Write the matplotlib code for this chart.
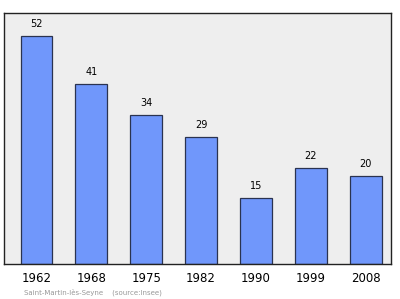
import matplotlib.pyplot as plt
import numpy as np

# Données
annees = ['1962', '1968', '1975', '1982', '1990', '1999', '2008']
population = [52, 41, 34, 29, 15, 22, 20]

fig = plt.figure(figsize=(4.0, 2.99), dpi=100)
ax = fig.add_axes([0.01, 0.117, 0.9675, 0.838])
ax.set_facecolor('#eeeeee')

x = np.arange(len(annees))
bars = ax.bar(x, population, width=0.577, color='#7097fb',
              edgecolor='#2a3350', linewidth=0.9, zorder=2)

for xi, v in zip(x, population):
    ax.annotate(str(v), (xi, v), xytext=(0, 5), textcoords='offset points',
                ha='center', va='bottom', fontsize=7, color='black')

ax.set_xlim(-0.59, 6.46)
ax.set_ylim(0, 57.2)
ax.set_xticks(x)
ax.set_xticklabels(annees, fontsize=8.5)
ax.tick_params(axis='x', length=0, pad=6)
ax.set_yticks([])
for s in ax.spines.values():
    s.set_color('#222222')
    s.set_linewidth(1.0)

fig.text(0.06, 0.023, 'Saint-Martin-lès-Seyne    (source:Insee)',
         fontsize=5, color='#999999', ha='left', va='center')

fig.savefig('out.png', dpi=100)
